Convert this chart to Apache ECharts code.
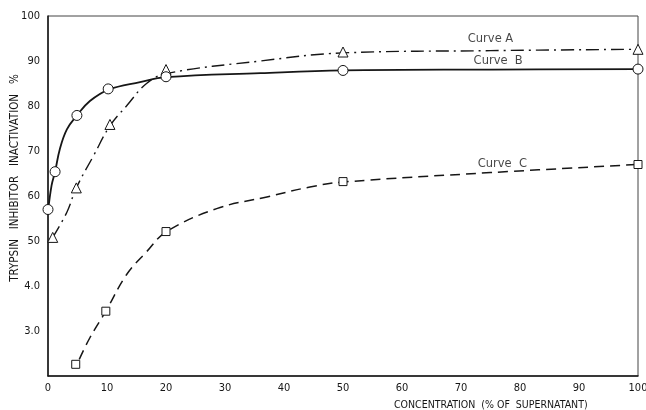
<!DOCTYPE html>
<html><head><meta charset="utf-8">
<script src="https://cdn.jsdelivr.net/npm/echarts@6/dist/echarts.min.js"></script>
<style>html,body{margin:0;padding:0;background:#fff}#c{width:646px;height:410px}</style>
</head><body><div id="c"></div>
<script>
// measured points (markers)
var pointsA = [[0.8, 50.8], [4.8, 61.8], [10.5, 75.9], [20, 88.1], [50, 92], [100, 92.6]];
var pointsB = [[0, 57], [1.2, 65.4], [4.9, 77.9], [10.2, 83.8], [20, 86.5], [50, 87.9], [100, 88.2]];
var pointsC = [[4.7, 22.6], [9.8, 34.4], [20, 52.1], [50, 63.2], [100, 67]];
// fitted curves
var lineA = [[0.8, 50.8], [3.2, 56.4], [4.8, 61.8], [7.7, 68.9], [10.5, 75.6], [13.3, 80], [16.7, 85], [20, 87.2], [36, 90], [50, 91.8], [75, 92.3], [100, 92.6]];
var lineB = [[0, 56.5], [0.6, 62.3], [1.2, 65.4], [2, 70.4], [3.2, 74.8], [4.9, 77.9], [7.1, 81.1], [10.2, 83.6], [15.6, 85.3], [20, 86.4], [36, 87.3], [50, 87.9], [75, 88.1], [100, 88.2]];
var lineC = [[5.3, 23.7], [7.1, 28.5], [9.8, 34.4], [13.3, 42.5], [16.7, 47.6], [20, 52], [28.6, 57.2], [37.1, 59.8], [44.4, 62], [50, 63.1], [75, 65.2], [100, 67]];
var curveNames = ['Curve A', 'Curve  B', 'Curve  C'];
var labelCoords = [[75, 94.8], [76.3, 90.0], [77, 67.2]];
var yTickLabels = {20: '', 30: '3.0', 40: '4.0', 50: '50', 60: '60', 70: '70', 80: '80', 90: '90', 100: '100'};
var xTickLabels = ['0', '10', '20', '30', '40', '50', '60', '70', '80', '90', '100'];

var font = '"DejaVu Sans Condensed", "DejaVu Sans", sans-serif';
var ink = '#161616';
var chart = echarts.init(document.getElementById('c'));
function markers(data, symbol, size) {
  return { type: 'line', data: data, symbol: symbol, symbolSize: size, z: 5,
    lineStyle: { width: 0, opacity: 0 },
    itemStyle: { color: '#fff', borderColor: ink, borderWidth: 1 } };
}
function curve(data, lineStyle) {
  return { type: 'line', data: data, smooth: 0.4, symbol: 'none', z: 3,
    lineStyle: lineStyle };
}
chart.setOption({
  animation: false,
  backgroundColor: '#fff',
  grid: { left: 48, right: 8, top: 16, bottom: 34, outerBoundsMode: 'none', containLabel: false,
    show: true, borderColor: '#444', borderWidth: 1 },
  title: { text: 'CONCENTRATION  (% OF  SUPERNATANT)', left: 389, top: 395,
    textStyle: { fontFamily: font, fontSize: 10.5, fontWeight: 'normal', color: ink } },
  xAxis: {
    type: 'value', min: 0, max: 100, interval: 10,
    axisLine: { show: true, lineStyle: { color: ink, width: 1.5 } },
    axisTick: { show: false }, splitLine: { show: false },
    axisLabel: { margin: 7, fontFamily: font, fontSize: 11, color: ink,
      formatter: function (v) { return xTickLabels[Math.round(v / 10)]; } }
  },
  yAxis: {
    type: 'value', min: 20, max: 100, interval: 10,
    name: 'TRYPSIN   INHIBITOR   INACTIVATION   %', nameLocation: 'middle', nameGap: 27,
    nameMoveOverlap: false,
    nameTextStyle: { fontFamily: font, fontSize: 11.5, color: ink, padding: [0, 0, 0, 36] },
    axisLine: { show: true, lineStyle: { color: ink, width: 1.5 } },
    axisTick: { show: false }, splitLine: { show: false },
    axisLabel: { margin: 8, fontFamily: font, fontSize: 11, color: ink,
      formatter: function (v) { return yTickLabels[v]; } }
  },
  series: [
    curve(lineA, { color: ink, width: 1.4, type: [13, 5, 2, 5] }),
    curve(lineB, { color: ink, width: 1.8 }),
    curve(lineC, { color: ink, width: 1.5, type: [10, 6] }),
    markers(pointsA, 'triangle', 10),
    markers(pointsB, 'circle', 10),
    markers(pointsC, 'rect', 8),
    { type: 'scatter', symbolSize: 0, z: 6,
      data: labelCoords.map(function (c, i) { return { value: c, name: curveNames[i] }; }),
      label: { show: true, position: 'inside', formatter: '{b}', color: ink,
        fontFamily: '"DejaVu Sans", sans-serif', fontSize: 11.5 } }
  ]
});
</script></body></html>
